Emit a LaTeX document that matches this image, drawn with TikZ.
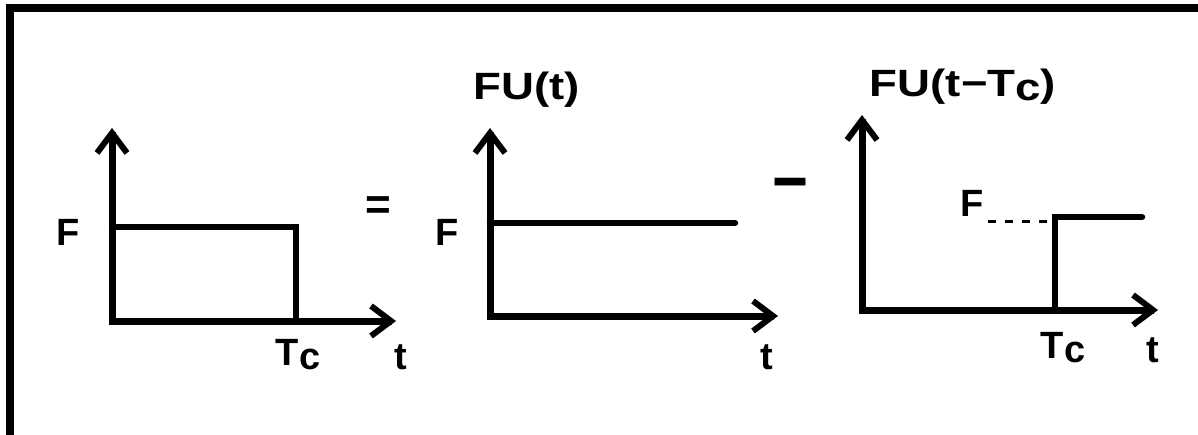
\documentclass[tikz,border=0pt]{standalone}
\usepackage{fontspec}
\setmainfont{Liberation Sans}
\usetikzlibrary{arrows.meta}
\begin{document}
\begin{tikzpicture}[x=1pt,y=-1pt,
  axis/.style={line width=7pt, line cap=rect, -{Straight Barb[length=20pt,width=30pt,line width=6pt]}},
  graph/.style={line width=6.5pt, line cap=round, line join=miter},
  guide/.style={line width=3pt, dash pattern=on 8pt off 9pt},
  lbl/.style={font=\fontsize{38}{42}\selectfont\bfseries, inner sep=0pt},
  top/.style={lbl, xscale=1.2},
  sign/.style={font=\fontsize{44}{48}\selectfont\bfseries, inner sep=0pt},
  frame/.style={line width=8pt}
]
\useasboundingbox (0,0) rectangle (1198,435);
\clip (0,0) rectangle (1198,435);
\draw[frame] (10,8) rectangle (1212,442);

% ---------- panel 1 ----------
\coordinate (o1) at (112,321);
\coordinate (y1) at (112,128);
\coordinate (x1) at (396,321);
\coordinate (a1) at (112,227);
\coordinate (b1) at (296,227);
\coordinate (c1) at (296,321);
\draw[axis] (o1) -- (y1);
\draw[axis] (o1) -- (x1);
\draw[graph] (a1) -- (b1) -- (c1);
\node[lbl] (F1) at (68,232) {F};
\node[lbl] (T1) at (298,355) {T\raisebox{-4pt}{c}};
\node[lbl] (t1) at (401,357) {t};
\node[sign] (eq) at (378,208) {=};

% ---------- panel 2 ----------
\coordinate (o2) at (490,316);
\coordinate (y2) at (490,128);
\coordinate (x2) at (778,316);
\coordinate (a2) at (490,223);
\coordinate (b2) at (735,223);
\draw[axis] (o2) -- (y2);
\draw[axis] (o2) -- (x2);
\draw[graph] (a2) -- (b2);
\node[lbl] (F2) at (447,232) {F};
\node[lbl] (t2) at (767,357) {t};
\node[top] (L2) at (527,90) {FU(t)};
\node[sign, xscale=1.4, yscale=1.6] (minus) at (790,192) {−};

% ---------- panel 3 ----------
\coordinate (o3) at (862,310);
\coordinate (y3) at (862,115);
\coordinate (x3) at (1158,310);
\coordinate (a3) at (1055,310);
\coordinate (b3) at (1055,217);
\coordinate (c3) at (1142,217);
\coordinate (d3) at (988,222);
\coordinate (e3) at (1050,222);
\draw[axis] (o3) -- (y3);
\draw[axis] (o3) -- (x3);
\draw[graph] (a3) -- (b3) -- (c3);
\draw[guide] (d3) -- (e3);
\node[lbl] (F3) at (972,203) {F};
\node[lbl] (T3) at (1063,348) {T\raisebox{-4pt}{c}};
\node[lbl] (t3) at (1153,350) {t};
\node[top] (L3) at (963,87) {FU(t−T\raisebox{-4pt}{c})};
\end{tikzpicture}
\end{document}
